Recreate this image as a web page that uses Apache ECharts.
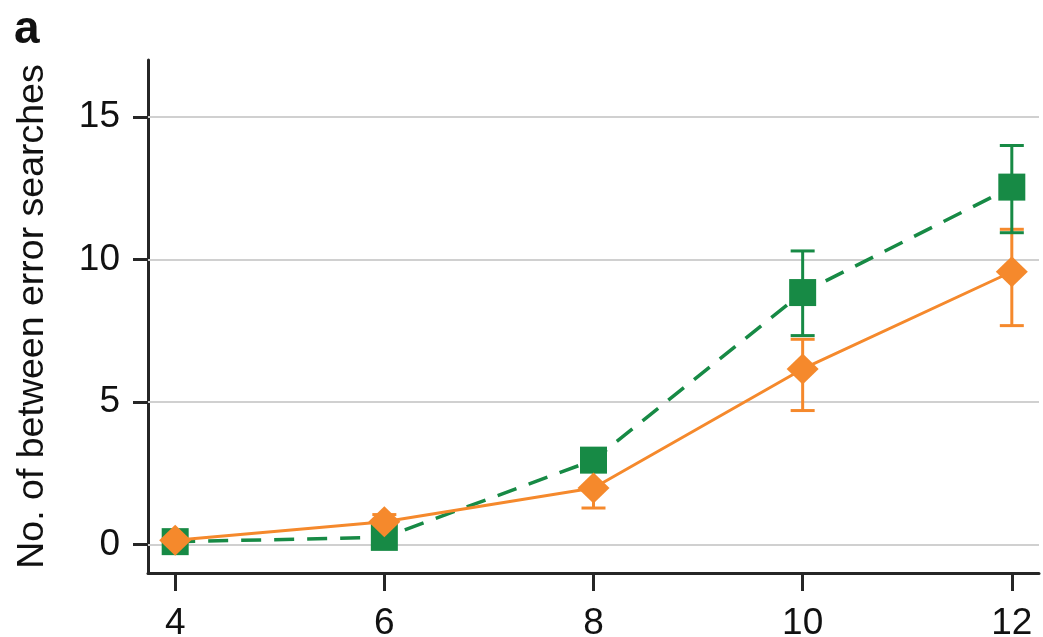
<!DOCTYPE html>
<html>
<head>
<meta charset="utf-8">
<script src="https://cdn.jsdelivr.net/npm/echarts@6/dist/echarts.min.js"></script>
<style>
html,body{margin:0;padding:0;background:#fff;}
#c{width:1043px;height:637px;}
</style>
</head>
<body>
<div id="c"></div>
<script>
const xValues = [4, 6, 8, 10, 12];
const xTicks = [4, 6, 8, 10, 12];
const yTicks = [0, 5, 10, 15];
const yLabel = 'No. of between error searches';
const panelLabel = 'a';

const greenMean = [0.1, 0.25, 2.96, 8.84, 12.54];
const greenLow  = [0.0, 0.1, 2.6, 7.33, 10.94];
const greenHigh = [0.2, 0.4, 3.3, 10.3, 14.0];

const orangeMean = [0.15, 0.8, 1.98, 6.16, 9.57];
const orangeLow  = [0.0, 0.55, 1.28, 4.70, 7.68];
const orangeHigh = [0.3, 1.05, 2.6, 7.20, 11.06];

const GREEN = '#178a45';
const ORANGE = '#f5892c';
const FONT = 'Liberation Sans, Arial, Helvetica, sans-serif';

function pairs(xs, ys) { return xs.map((x, i) => [x, ys[i]]); }
function triples(xs, lo, hi) { return xs.map((x, i) => [x, lo[i], hi[i]]); }

function errRender(color) {
  return function (params, api) {
    const x = api.value(0), lo = api.value(1), hi = api.value(2);
    const a = api.coord([x, lo]), b = api.coord([x, hi]);
    const h = 12;
    const st = { stroke: color, lineWidth: 3 };
    return {
      type: 'group',
      children: [
        { type: 'line', shape: { x1: a[0], y1: a[1], x2: b[0], y2: b[1] }, style: st },
        { type: 'line', shape: { x1: a[0] - h, y1: a[1], x2: a[0] + h, y2: a[1] }, style: st },
        { type: 'line', shape: { x1: b[0] - h, y1: b[1], x2: b[0] + h, y2: b[1] }, style: st }
      ]
    };
  };
}

const chart = echarts.init(document.getElementById('c'), null, { renderer: 'canvas' });
chart.setOption({
  animation: false,
  backgroundColor: '#ffffff',
  textStyle: { fontFamily: FONT },
  grid: { left: 148, right: 4, top: 60, bottom: 64, containLabel: false, outerBoundsMode: 'none' },
  graphic: [{
    type: 'text', left: 14, top: 7,
    style: { text: panelLabel, font: 'bold 46px ' + FONT, fill: '#111' }
  }],
  xAxis: {
    type: 'value', min: 3.74, max: 12.26,
    axisLine: { show: true, onZero: false, lineStyle: { color: '#262626', width: 3 } },
    axisTick: { show: true, customValues: xTicks, length: 18, lineStyle: { color: '#262626', width: 3 } },
    axisLabel: { customValues: xTicks, margin: 32, fontSize: 37, color: '#111', fontFamily: FONT },
    splitLine: { show: false }
  },
  yAxis: {
    type: 'value', min: -1, max: 17,
    name: yLabel, nameLocation: 'middle', nameGap: 96, nameRotate: 90,
    nameTextStyle: { fontSize: 37.5, color: '#111', fontFamily: FONT },
    axisLine: { show: true, onZero: false, lineStyle: { color: '#262626', width: 3 } },
    axisTick: { show: true, customValues: yTicks, length: 15, lineStyle: { color: '#262626', width: 3 } },
    axisLabel: { customValues: yTicks, margin: 28, fontSize: 37, color: '#111', fontFamily: FONT },
    splitLine: { show: false }
  },
  series: [
    {
      name: 'orangeErr', type: 'custom', z: 2,
      renderItem: errRender(ORANGE),
      encode: { x: 0, y: [1, 2] },
      data: triples(xValues, orangeLow, orangeHigh),
      markLine: {
        silent: true, symbol: ['none', 'none'], z: 1,
        label: { show: false },
        lineStyle: { color: '#d0d0d0', width: 2, type: 'solid' },
        data: yTicks.map(v => ({ yAxis: v }))
      }
    },
    {
      name: 'greenErr', type: 'custom', z: 3,
      renderItem: errRender(GREEN),
      encode: { x: 0, y: [1, 2] },
      data: triples(xValues, greenLow, greenHigh)
    },
    {
      name: 'green', type: 'line', z: 4,
      data: pairs(xValues, greenMean),
      symbol: 'rect', symbolSize: 27,
      itemStyle: { color: GREEN },
      lineStyle: { color: GREEN, width: 3.5, type: [20, 13] }
    },
    {
      name: 'orange', type: 'line', z: 5,
      data: pairs(xValues, orangeMean),
      symbol: 'diamond', symbolSize: [32, 31],
      itemStyle: { color: ORANGE },
      lineStyle: { color: ORANGE, width: 3 }
    }
  ]
});
</script>
</body>
</html>
